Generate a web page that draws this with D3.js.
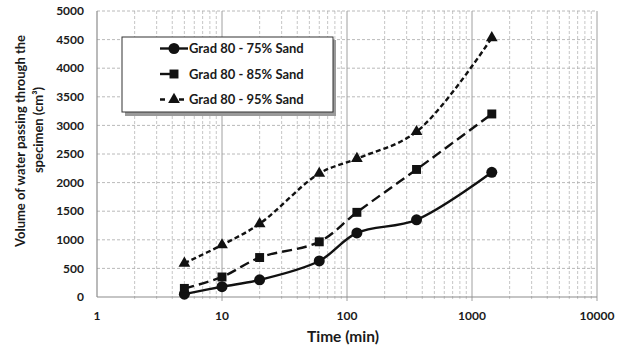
<!DOCTYPE html>
<html>
<head>
<meta charset="utf-8">
<script src="https://cdn.jsdelivr.net/npm/d3@7"></script>
<style>
  body { margin: 0; background: #fff; }
  text { font-family: Lato, "Open Sans", sans-serif; font-weight: bold; fill: #1a1a1a; }
</style>
</head>
<body>
<div id="chart"></div>
<script>
// time values (min) and measured volumes (cm3)
const times = [5, 10, 20, 60, 120, 360, 1440];
const sand75 = [50, 180, 300, 630, 1120, 1350, 2180];
const sand85 = [150, 350, 690, 965, 1480, 2230, 3200];
const sand95 = [590, 910, 1280, 2160, 2420, 2890, 4530];
const seriesNames = ['Grad 80 - 75% Sand', 'Grad 80 - 85% Sand', 'Grad 80 - 95% Sand'];
const xTicks = [1, 10, 100, 1000, 10000];
const yTicks = [0, 500, 1000, 1500, 2000, 2500, 3000, 3500, 4000, 4500, 5000];

const W = 629, H = 349;
const margin = {top: 11, right: 32, bottom: 52, left: 97};
const width = W - margin.left - margin.right;
const height = H - margin.top - margin.bottom;

const svg = d3.select('#chart')
  .append('svg')
  .attr('width', W)
  .attr('height', H);

const g = svg.append('g')
  .attr('transform', 'translate(' + margin.left + ',' + margin.top + ')');

const x = d3.scaleLog().domain([1, 10000]).range([0, width]);
const y = d3.scaleLinear().domain([0, 5000]).range([height, 0]);

// minor vertical gridlines (2..9 in each decade)
const minor = [];
for (let d = 1; d < 10000; d *= 10) {
  for (let k = 2; k <= 9; k++) minor.push(d * k);
}
g.selectAll('.minor')
  .data(minor)
  .enter()
  .append('line')
  .attr('x1', d => x(d)).attr('x2', d => x(d))
  .attr('y1', 0).attr('y2', height + 4)
  .style('stroke', '#b8b8b8')
  .style('stroke-width', 0.8)
  .style('stroke-dasharray', '3,2');

// horizontal gridlines
g.selectAll('.hgrid')
  .data(yTicks.slice(1))
  .enter()
  .append('line')
  .attr('x1', 0).attr('x2', width)
  .attr('y1', d => y(d)).attr('y2', d => y(d))
  .style('stroke', '#a8a8a8')
  .style('stroke-width', 0.8)
  .style('stroke-dasharray', '3,2');

// major vertical gridlines
g.selectAll('.major')
  .data(xTicks.slice(1))
  .enter()
  .append('line')
  .attr('x1', d => x(d)).attr('x2', d => x(d))
  .attr('y1', 0).attr('y2', height + 4)
  .style('stroke', '#a0a0a0')
  .style('stroke-width', 1);

// axis lines
g.append('line')
  .attr('x1', 0).attr('x2', 0).attr('y1', 0).attr('y2', height)
  .style('stroke', '#8c8c8c').style('stroke-width', 1.2);
g.append('line')
  .attr('x1', 0).attr('x2', width).attr('y1', height).attr('y2', height)
  .style('stroke', '#8c8c8c').style('stroke-width', 1.2);

// tick labels
g.selectAll('.ylab')
  .data(yTicks)
  .enter()
  .append('text')
  .attr('x', -13)
  .attr('y', d => y(d))
  .attr('dy', '0.35em')
  .attr('text-anchor', 'end')
  .style('font-size', '12px')
  .text(d => d);

g.selectAll('.xlab')
  .data(xTicks)
  .enter()
  .append('text')
  .attr('x', d => x(d))
  .attr('y', height + 19)
  .attr('dy', '0.35em')
  .attr('text-anchor', 'middle')
  .style('font-size', '12px')
  .text(d => d);

// axis titles
g.append('text')
  .attr('x', width / 2 - 4)
  .attr('y', height + 40)
  .attr('dy', '0.35em')
  .attr('text-anchor', 'middle')
  .style('font-size', '15.5px')
  .text('Time (min)');

svg.append('text')
  .attr('transform', 'translate(20,141) rotate(-90)')
  .attr('dy', '0.35em')
  .attr('text-anchor', 'middle')
  .style('font-size', '13px')
  .text('Volume of water passing through the');
svg.append('text')
  .attr('transform', 'translate(38,130) rotate(-90)')
  .attr('dy', '0.35em')
  .attr('text-anchor', 'middle')
  .style('font-size', '13px')
  .text('specimen (cm³)');

// series
const series = [
  {name: seriesNames[0], values: sand75, dash: null, legendDash: null, marker: 'circle'},
  {name: seriesNames[1], values: sand85, dash: '10,5', legendDash: '10,30', marker: 'square'},
  {name: seriesNames[2], values: sand95, dash: '5,3', legendDash: '5,14', marker: 'triangle'}
];

const line = d3.line()
  .x(d => x(d[0]))
  .y(d => y(d[1]))
  .curve(d3.curveCatmullRom.alpha(0.5));

const symbolFor = {
  circle: d3.symbol().type(d3.symbolCircle).size(95),
  square: d3.symbol().type(d3.symbolSquare).size(80),
  triangle: d3.symbol().type(d3.symbolTriangle).size(60)
};

series.forEach(s => {
  const pts = times.map((t, i) => [t, s.values[i]]);
  g.append('path')
    .datum(pts)
    .attr('d', line)
    .style('fill', 'none')
    .style('stroke', '#111')
    .style('stroke-width', 2.4)
    .style('stroke-dasharray', s.dash);
  g.selectAll('.m-' + s.marker)
    .data(pts)
    .enter()
    .append('path')
    .attr('d', symbolFor[s.marker]())
    .attr('transform', d => 'translate(' + x(d[0]) + ',' + y(d[1]) + ')')
    .style('fill', '#111');
});

// legend
const lg = svg.append('g').attr('transform', 'translate(122,37)');
lg.append('rect')
  .attr('x', 3).attr('y', 3).attr('width', 211).attr('height', 76)
  .style('fill', '#9a9a9a');
lg.append('rect')
  .attr('x', 0).attr('y', 0).attr('width', 211).attr('height', 75)
  .style('fill', '#fff')
  .style('stroke', '#333')
  .style('stroke-width', 1);

series.forEach((s, i) => {
  const yy = 11.5 + i * 25.5;
  lg.append('line')
    .attr('x1', 38).attr('x2', 66).attr('y1', yy).attr('y2', yy)
    .style('stroke', '#111')
    .style('stroke-width', 2.4)
    .style('stroke-dasharray', s.legendDash);
  lg.append('path')
    .attr('d', symbolFor[s.marker]())
    .attr('transform', 'translate(52,' + yy + ')')
    .style('fill', '#111');
  lg.append('text')
    .attr('x', 67)
    .attr('y', yy)
    .attr('dy', '0.35em')
    .style('font-size', '13px')
    .text(s.name);
});
</script>
</body>
</html>
